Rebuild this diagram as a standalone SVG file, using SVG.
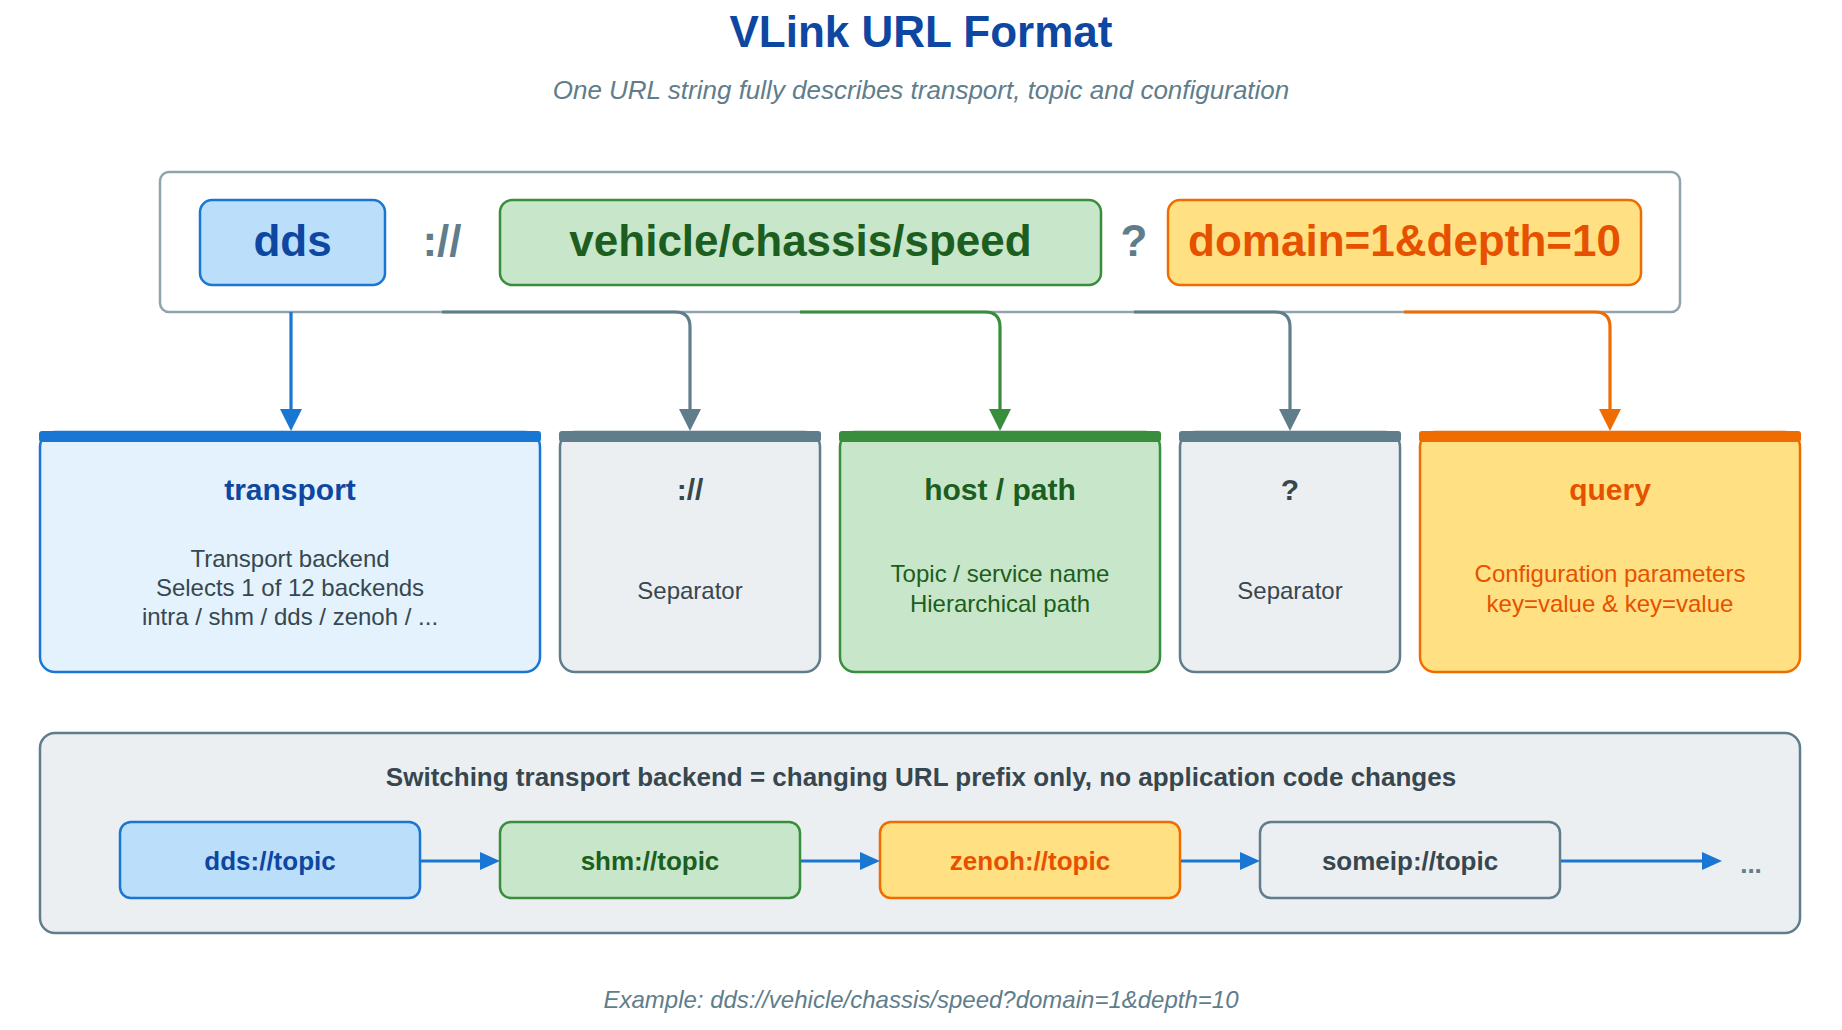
<svg xmlns="http://www.w3.org/2000/svg" width="1842" height="1030" viewBox="0 0 1842 1030">
<defs>
<style>
text{font-family:"Liberation Sans",Arial,Helvetica,sans-serif;text-anchor:middle}
.b{font-weight:bold}
.it{font-style:italic}
.url{font-size:44px;font-weight:bold}
.ct{font-size:30px;font-weight:bold}
.cd{font-size:24px}
.chip{font-size:26px;font-weight:bold}
.conn{fill:none;stroke-width:3.2}
</style>
<marker id="mBlue" markerUnits="userSpaceOnUse" markerWidth="22" markerHeight="22" viewBox="0 0 22 22" refX="0" refY="11" orient="auto"><path d="M0,0 L22,11 L0,22 z" fill="#1976D2"/></marker>
<marker id="mGray" markerUnits="userSpaceOnUse" markerWidth="22" markerHeight="22" viewBox="0 0 22 22" refX="0" refY="11" orient="auto"><path d="M0,0 L22,11 L0,22 z" fill="#607D8B"/></marker>
<marker id="mGreen" markerUnits="userSpaceOnUse" markerWidth="22" markerHeight="22" viewBox="0 0 22 22" refX="0" refY="11" orient="auto"><path d="M0,0 L22,11 L0,22 z" fill="#388E3C"/></marker>
<marker id="mOrange" markerUnits="userSpaceOnUse" markerWidth="22" markerHeight="22" viewBox="0 0 22 22" refX="0" refY="11" orient="auto"><path d="M0,0 L22,11 L0,22 z" fill="#EF6C00"/></marker>
<marker id="mChip" markerUnits="userSpaceOnUse" markerWidth="20" markerHeight="18" viewBox="0 0 20 18" refX="0" refY="9" orient="auto"><path d="M0,0 L20,9 L0,18 z" fill="#1976D2"/></marker>
</defs>
<rect width="1842" height="1030" fill="#ffffff"/>

<g id="title">
<text x="921" y="47" class="b" font-size="44" fill="#0D47A1">VLink URL Format</text>
<text x="921" y="99" class="it" font-size="26" fill="#607D8B">One URL string fully describes transport, topic and configuration</text>
</g>

<g id="url-box">
<rect x="160" y="172" width="1520" height="140" rx="9" fill="#ffffff" stroke="#90A4AE" stroke-width="2.5"/>
</g>
<g id="url-scheme">
<rect x="200" y="200" width="185" height="85" rx="12" fill="#BBDEFB" stroke="#1976D2" stroke-width="2.5"/>
<text x="292.5" y="256" class="url" fill="#0D47A1">dds</text>
</g>
<g id="url-sep1">
<text x="442" y="256" class="url" fill="#607D8B">://</text>
</g>
<g id="url-path">
<rect x="500" y="200" width="601" height="85" rx="12" fill="#C8E6C9" stroke="#388E3C" stroke-width="2.5"/>
<text x="800.5" y="256" class="url" fill="#1B5E20">vehicle/chassis/speed</text>
</g>
<g id="url-sep2">
<text x="1134" y="256" class="url" fill="#607D8B">?</text>
</g>
<g id="url-query">
<rect x="1168" y="200" width="473" height="85" rx="12" fill="#FFE082" stroke="#EF6C00" stroke-width="2.5"/>
<text x="1404.5" y="256" class="url" fill="#E65100">domain=1&amp;depth=10</text>
</g>

<g id="card-transport">
<rect x="40" y="432" width="500" height="240" rx="15" fill="#E3F2FD" stroke="#1976D2" stroke-width="2.5"/>
<rect x="39" y="431" width="502" height="11" rx="3" fill="#1976D2"/>
<text x="290" y="500" class="ct" fill="#0D47A1">transport</text>
<text x="290" y="567" class="cd" fill="#37474F">Transport backend</text>
<text x="290" y="596" class="cd" fill="#37474F">Selects 1 of 12 backends</text>
<text x="290" y="625" class="cd" fill="#37474F">intra / shm / dds / zenoh / ...</text>
</g>

<g id="card-sep1">
<rect x="560" y="432" width="260" height="240" rx="15" fill="#ECEFF1" stroke="#607D8B" stroke-width="2.5"/>
<rect x="559" y="431" width="262" height="11" rx="3" fill="#607D8B"/>
<text x="690" y="500" class="ct" fill="#37474F">://</text>
<text x="690" y="599" class="cd" fill="#37474F">Separator</text>
</g>

<g id="card-path">
<rect x="840" y="432" width="320" height="240" rx="15" fill="#C8E6C9" stroke="#388E3C" stroke-width="2.5"/>
<rect x="839" y="431" width="322" height="11" rx="3" fill="#388E3C"/>
<text x="1000" y="500" class="ct" fill="#1B5E20">host / path</text>
<text x="1000" y="582" class="cd" fill="#1B5E20">Topic / service name</text>
<text x="1000" y="612" class="cd" fill="#1B5E20">Hierarchical path</text>
</g>

<g id="card-sep2">
<rect x="1180" y="432" width="220" height="240" rx="15" fill="#ECEFF1" stroke="#607D8B" stroke-width="2.5"/>
<rect x="1179" y="431" width="222" height="11" rx="3" fill="#607D8B"/>
<text x="1290" y="500" class="ct" fill="#37474F">?</text>
<text x="1290" y="599" class="cd" fill="#37474F">Separator</text>
</g>

<g id="card-query">
<rect x="1420" y="432" width="380" height="240" rx="15" fill="#FFE082" stroke="#EF6C00" stroke-width="2.5"/>
<rect x="1419" y="431" width="382" height="11" rx="3" fill="#EF6C00"/>
<text x="1610" y="500" class="ct" fill="#E65100">query</text>
<text x="1610" y="582" class="cd" fill="#E65100">Configuration parameters</text>
<text x="1610" y="612" class="cd" fill="#E65100">key=value &amp; key=value</text>
</g>

<g id="switch-panel">
<rect x="40" y="733" width="1760" height="200" rx="15" fill="#ECEFF1" stroke="#607D8B" stroke-width="2.5"/>
<text x="921" y="786" class="b" font-size="26" fill="#37474F">Switching transport backend = changing URL prefix only, no application code changes</text>
</g>
<g id="chip-dds">
<rect x="120" y="822" width="300" height="76" rx="11" fill="#BBDEFB" stroke="#1976D2" stroke-width="2.5"/>
<text x="270" y="870" class="chip" fill="#0D47A1">dds://topic</text>
</g>
<g id="chip-shm">
<rect x="500" y="822" width="300" height="76" rx="11" fill="#C8E6C9" stroke="#388E3C" stroke-width="2.5"/>
<text x="650" y="870" class="chip" fill="#1B5E20">shm://topic</text>
</g>
<g id="chip-zenoh">
<rect x="880" y="822" width="300" height="76" rx="11" fill="#FFE082" stroke="#EF6C00" stroke-width="2.5"/>
<text x="1030" y="870" class="chip" fill="#E65100">zenoh://topic</text>
</g>
<g id="chip-someip">
<rect x="1260" y="822" width="300" height="76" rx="11" fill="#ECEFF1" stroke="#607D8B" stroke-width="2.5"/>
<text x="1410" y="870" class="chip" fill="#37474F">someip://topic</text>
</g>
<g id="chip-more">
<text x="1751" y="873" class="chip" fill="#607D8B">...</text>
</g>

<g id="connectors">
<path class="conn" stroke="#1976D2" d="M291,312 V409" marker-end="url(#mBlue)"/>
<path class="conn" stroke="#607D8B" d="M442,312 H675 Q690,312 690,327 V409" marker-end="url(#mGray)"/>
<path class="conn" stroke="#388E3C" d="M800,312 H985 Q1000,312 1000,327 V409" marker-end="url(#mGreen)"/>
<path class="conn" stroke="#607D8B" d="M1134,312 H1275 Q1290,312 1290,327 V409" marker-end="url(#mGray)"/>
<path class="conn" stroke="#EF6C00" d="M1404,312 H1595 Q1610,312 1610,327 V409" marker-end="url(#mOrange)"/>
<path class="conn" stroke="#1976D2" stroke-width="3" d="M421,861 H480" marker-end="url(#mChip)"/>
<path class="conn" stroke="#1976D2" stroke-width="3" d="M801,861 H860" marker-end="url(#mChip)"/>
<path class="conn" stroke="#1976D2" stroke-width="3" d="M1181,861 H1240" marker-end="url(#mChip)"/>
<path class="conn" stroke="#1976D2" stroke-width="3" d="M1561,861 H1702" marker-end="url(#mChip)"/>
</g>

<g id="footer">
<text x="921" y="1008" class="it" font-size="24" fill="#607D8B">Example: dds://vehicle/chassis/speed?domain=1&amp;depth=10</text>
</g>
</svg>
